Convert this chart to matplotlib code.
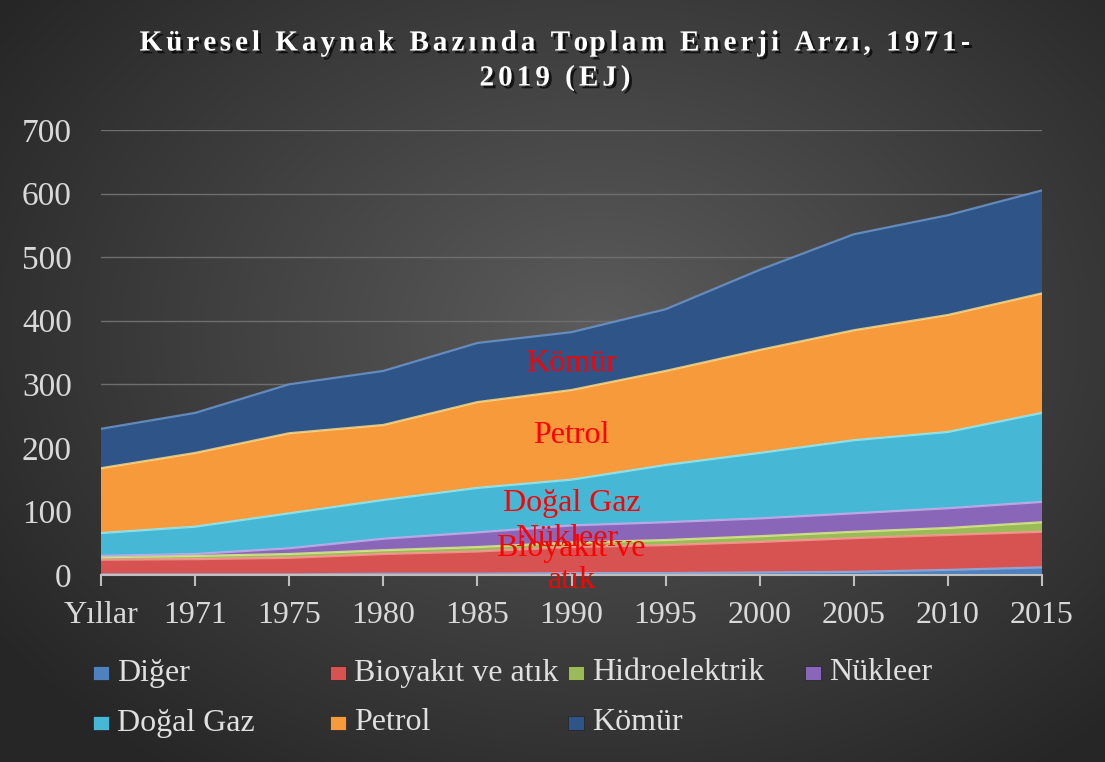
import numpy as np
import matplotlib.pyplot as plt
import matplotlib.patheffects as pe
from matplotlib.patches import Rectangle

years = ['Yıllar', '1971', '1975', '1980', '1985', '1990', '1995', '2000', '2005', '2010', '2015']

diger = [1, 1, 1, 2, 2, 3, 3, 4, 5, 8, 12]
bioyakit = [23, 24, 26, 31, 35, 41, 44, 48, 53, 55, 56]
hidro = [4, 5, 6, 6, 7, 7, 8, 9, 10, 11, 15]
nukleer = [2, 3, 9, 18, 23, 27, 28, 28, 29, 31, 32]
dogalgaz = [36, 43, 55, 61, 70, 72, 90, 103, 115, 120, 140]
petrol = [102, 116, 126, 118, 135, 141, 148, 162, 173, 184, 188]
komur = [62, 63, 77, 85, 93, 91, 97, 126, 151, 157, 162]

names = ['Diğer', 'Bioyakıt ve atık', 'Hidroelektrik', 'Nükleer', 'Doğal Gaz', 'Petrol', 'Kömür']
colors = ['#4f81bd', '#d65352', '#9bbb59', '#8a66b8', '#46b8d6', '#f79a3c', '#2e5488']
edges = ['#8fb4e8', '#ff9a9a', '#e0f08a', '#cdb0f0', '#8ef0ff', '#ffe08a', '#6f9ad0']

plt.rcParams['font.family'] = ['Liberation Serif', 'DejaVu Serif']

W, H = 1105, 762
fig = plt.figure(figsize=(W / 100, H / 100), dpi=100)

# background radial gradient
bg = fig.add_axes([0, 0, 1, 1], zorder=-10)
yy, xx = np.mgrid[0:H, 0:W]
d = np.sqrt(((xx - 600) / 700.0) ** 2 + ((yy - 330) / 520.0) ** 2)
g = np.clip(0.36 - 0.2 * d, 0.15, 0.4)
bg.imshow(np.dstack([g, g, g]), aspect='auto', extent=[0, 1, 0, 1])
bg.set_axis_off()

ax = fig.add_axes([101 / W, 1 - 575 / H, (1042 - 101) / W, (575 - 130) / H])
ax.patch.set_alpha(0)
x = np.arange(len(years))
series = [diger, bioyakit, hidro, nukleer, dogalgaz, petrol, komur]
ax.stackplot(x, *series, colors=colors, zorder=3)
cum = np.zeros(len(years))
for s, e in zip(series, edges):
    cum = cum + np.array(s)
    ax.plot(x, cum, color=e, lw=1.6, zorder=4, alpha=0.8)

ax.set_xlim(0, 10)
ax.set_ylim(0, 700)
ax.set_yticks(range(0, 701, 100))
ax.set_xticks(x)
ax.set_xticklabels(years)
ax.grid(axis='y', color='#6e6e6e', lw=1, zorder=0)
for sp in ['top', 'right', 'left']:
    ax.spines[sp].set_visible(False)
ax.spines['bottom'].set_color('#bfbfbf')
ax.spines['bottom'].set_linewidth(1.5)
ax.spines['bottom'].set_zorder(5)
ax.tick_params(axis='y', length=0, pad=21, labelsize=24, labelcolor='#d9d9d9')
ax.tick_params(axis='x', length=8, width=1.5, color='#bfbfbf', direction='out',
               pad=11, labelsize=23, labelcolor='#d9d9d9')

# red labels inside the areas
red = dict(color='#ff0000', fontsize=23, ha='center', va='center', zorder=6)
ax.text(5.0, 333, 'Kömür', **red)
ax.text(5.0, 219, 'Petrol', **red)
ax.text(5.0, 112, 'Doğal Gaz', **red)
ax.text(4.95, 58, 'Nükleer', **red)
ax.text(5.0, 16, 'Bioyakıt ve\natık', linespacing=1.15, **red)

# legend
leg_pos = [(101, 673), (338, 673), (576, 673), (813, 673),
           (101, 723), (338, 723), (576, 723)]
for (px, py), nm, c in zip(leg_pos, names, colors):
    fig.add_artist(Rectangle(((px - 8) / W, 1 - (py + 7) / H), 16 / W, 14 / H,
                             transform=fig.transFigure, facecolor=c,
                             edgecolor='#222222', lw=0.5))
    fig.text((px + 16) / W, 1 - py / H, nm, fontsize=23, color='#e0e0e0',
             ha='left', va='center')

# title with letter spacing
renderer = fig.canvas.get_renderer()
tkw = dict(fontsize=21, fontweight='bold', color='white')


def text_width(s):
    t = fig.text(0, 0, s, **tkw)
    w = t.get_window_extent(renderer).width
    t.remove()
    return w


def spaced_text(s, xc, yc, spacing):
    bar = text_width('|')
    total = text_width(s) + spacing * (len(s) - 1)
    x0 = xc - total / 2
    for i, ch in enumerate(s):
        if ch == ' ':
            continue
        xi = x0 + text_width(s[:i] + '|') - bar + i * spacing
        fig.text(xi / W, 1 - yc / H, ch, ha='left', va='center',
                 path_effects=[pe.withSimplePatchShadow(offset=(2, -2), shadow_rgbFace='black', alpha=0.7)],
                 **tkw)


spaced_text('Küresel Kaynak Bazında Toplam Enerji Arzı, 1971-', 555, 43, 4.0)
spaced_text('2019 (EJ)', 555, 78, 4.0)

fig.savefig('out.png', dpi=100)
